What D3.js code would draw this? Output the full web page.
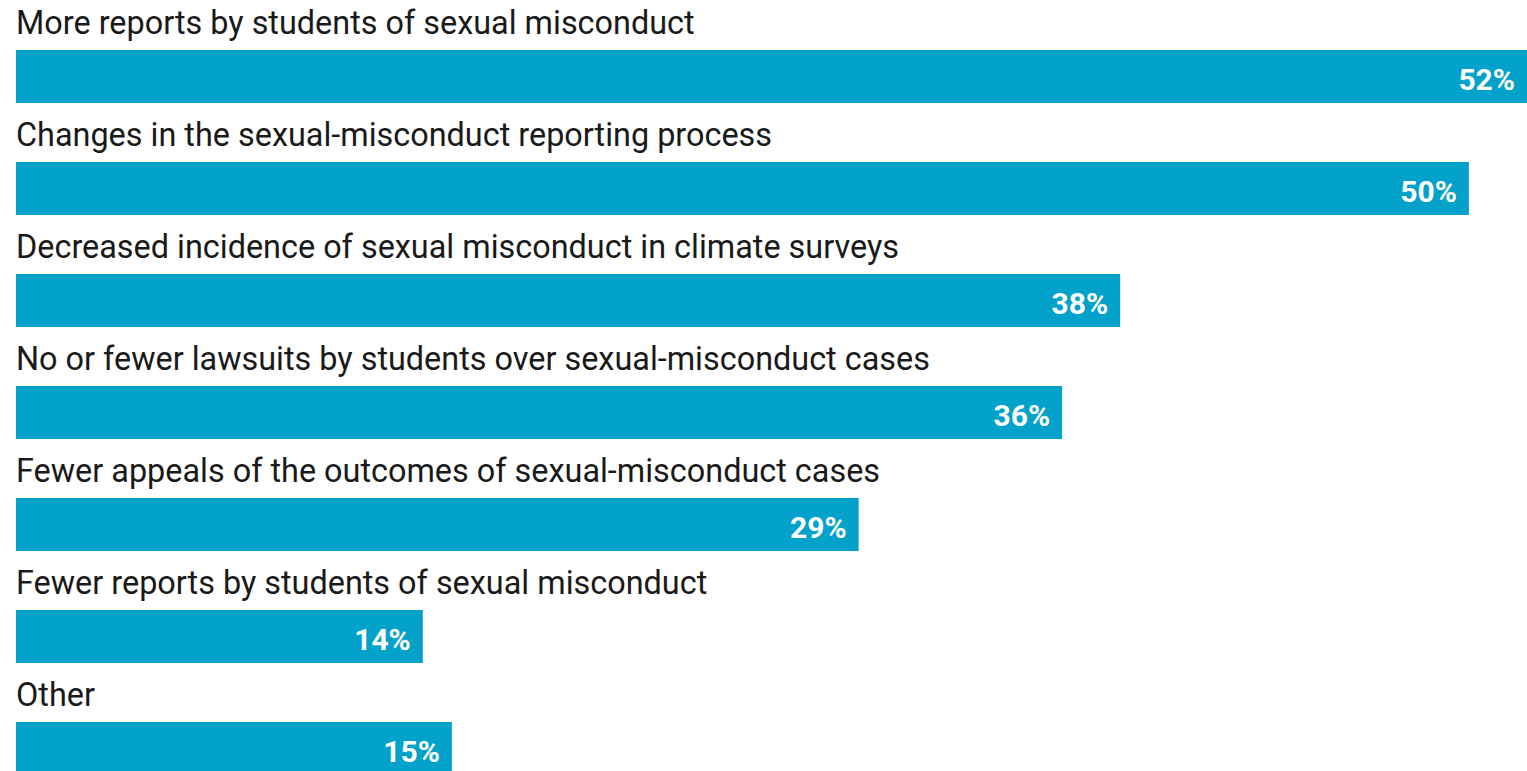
<!DOCTYPE html>
<html>
<head>
<meta charset="utf-8">
<script src="https://cdn.jsdelivr.net/npm/d3@7"></script>
<style>
  body { margin: 0; background: #fff; }
  svg { display: block; }
</style>
</head>
<body>
<div id="chart"></div>
<script>
// data
var categories = [
  "More reports by students of sexual misconduct",
  "Changes in the sexual-misconduct reporting process",
  "Decreased incidence of sexual misconduct in climate surveys",
  "No or fewer lawsuits by students over sexual-misconduct cases",
  "Fewer appeals of the outcomes of sexual-misconduct cases",
  "Fewer reports by students of sexual misconduct",
  "Other"
];
var values = [52, 50, 38, 36, 29, 14, 15];

var width = 1527, height = 771;
var margin = {top: 0, right: 0, bottom: 0, left: 16};

var svg = d3.select("#chart")
  .append("svg")
  .attr("width", width)
  .attr("height", height);

var data = categories.map(function(c, i) { return {name: c, value: values[i]}; });

// x scale: 52% reaches the right edge
var x = d3.scaleLinear()
  .domain([0, 52])
  .range([margin.left, width - margin.right]);

// each row is 112px tall
var y = d3.scaleBand()
  .domain(categories)
  .range([0, 112 * categories.length]);

var rows = svg.selectAll("g.row")
  .data(data)
  .enter()
  .append("g")
  .attr("class", "row")
  .attr("transform", function(d) { return "translate(0," + y(d.name) + ")"; });

rows.append("text")
  .attr("x", margin.left)
  .attr("y", 34)
  .style("font-family", "Roboto, sans-serif")
  .style("font-size", "32.4px")
  .style("fill", "#1a1a1a")
  .text(function(d) { return d.name; });

rows.append("rect")
  .attr("x", x(0))
  .attr("y", 50)
  .attr("height", 53)
  .attr("width", function(d) { return x(d.value) - x(0); })
  .style("fill", "#02a2cb");

rows.append("text")
  .attr("x", function(d) { return x(d.value) - 12; })
  .attr("y", 90)
  .attr("text-anchor", "end")
  .style("font-family", "Roboto, sans-serif")
  .style("font-size", "30px")
  .style("font-weight", "700")
  .style("fill", "#fff")
  .text(function(d) { return d.value + "%"; });
</script>
</body>
</html>
